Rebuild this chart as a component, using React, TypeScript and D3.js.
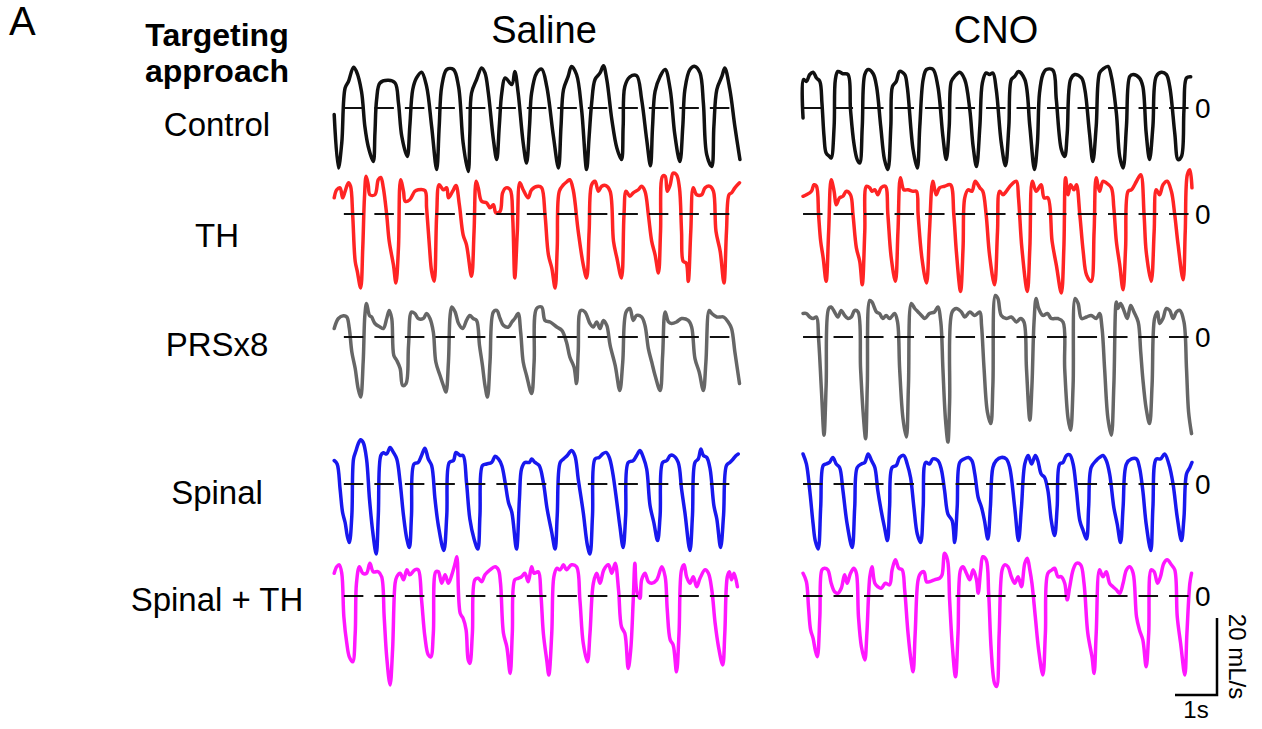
import * as d3 from 'd3';

type Pt = [number, number]; // [time (s), flow (mL/s)]

const conditions = ['Saline', 'CNO'];
const approaches = ['Control', 'TH', 'PRSx8', 'Spinal', 'Spinal + TH'];
const traceColors = ['#111111', '#ff2424', '#666666', '#1818ee', '#ff17ff'];

const controlSaline: Pt[] = [
  [0.1, -1.7], [0.2, -15.6], [0.28, -9.1], [0.36, 5.2], [0.44, 6.9], [0.56, 10.6], [0.63, 9.5], [0.75, 4.3],
  [0.83, -4.8], [0.91, -10.0], [1.03, -13.9], [1.07, -6.5], [1.11, 2.2], [1.19, 6.5], [1.39, 7.2], [1.55, 6.5],
  [1.63, 1.3], [1.71, -7.4], [1.84, -12.6], [1.9, -4.8], [1.97, 4.8], [2.06, 7.8], [2.18, 9.3], [2.3, 5.6],
  [2.42, -4.8], [2.54, -16.0], [2.6, -4.8], [2.66, 5.6], [2.78, 10.0], [2.94, 10.0], [3.06, 5.6], [3.17, -9.1],
  [3.29, -16.5], [3.33, -6.5], [3.37, 3.9], [3.49, 7.4], [3.61, 10.4], [3.69, 9.1], [3.77, 3.9], [3.89, -8.2],
  [3.97, -13.4], [4.03, -4.8], [4.09, 3.9], [4.17, 7.8], [4.33, 6.1], [4.4, 9.5], [4.48, 3.9], [4.6, -9.1],
  [4.68, -14.3], [4.75, -4.8], [4.8, 3.9], [4.92, 9.1], [5.04, 10.1], [5.16, 5.6], [5.32, -7.4], [5.44, -15.6],
  [5.5, -4.8], [5.56, 4.8], [5.67, 8.2], [5.75, 10.8], [5.87, 8.7], [5.99, -0.4], [6.11, -16.0], [6.17, -7.4],
  [6.23, 1.3], [6.31, 7.4], [6.43, 9.1], [6.51, 11.0], [6.59, 7.4], [6.71, -3.0], [6.83, -10.4], [6.94, -13.4],
  [6.98, -4.8], [7.02, 5.6], [7.14, 8.1], [7.3, 8.4], [7.42, 2.2], [7.54, -8.2], [7.63, -15.0], [7.68, -4.8],
  [7.74, 4.3], [7.86, 8.2], [7.98, 10.0], [8.1, 4.8], [8.21, -6.9], [8.33, -13.9], [8.4, -4.8], [8.45, 4.8],
  [8.57, 10.0], [8.69, 10.8], [8.81, 9.1], [8.89, 1.3], [8.97, -12.1], [9.09, -15.2], [9.14, -4.8], [9.21, 4.8],
  [9.33, 8.2], [9.4, 10.4], [9.52, 4.8], [9.64, -4.8], [9.76, -13.4],
];

const controlCNO: Pt[] = [
  [0.12, -2.6], [0.13, 7.4], [0.2, 6.9], [0.28, 8.7], [0.36, 9.3], [0.44, 7.8], [0.52, 6.9], [0.57, 1.3],
  [0.62, -7.4], [0.67, -11.7], [0.75, -12.6], [0.79, -13.0], [0.86, -4.8], [0.89, 7.4], [0.95, 9.5], [1.07, 8.9],
  [1.19, 8.7], [1.25, -0.4], [1.33, -9.1], [1.41, -13.4], [1.47, -14.3], [1.53, -4.8], [1.59, 8.7], [1.67, 10.0],
  [1.79, 8.9], [1.87, 5.6], [1.97, -4.8], [2.06, -13.4], [2.14, -16.0], [2.21, -4.8], [2.25, 5.6], [2.34, 6.9],
  [2.42, 9.5], [2.54, 8.7], [2.6, 5.6], [2.74, -10.8], [2.84, -15.6], [2.9, -4.8], [2.98, 7.4], [3.06, 10.0],
  [3.21, 10.1], [3.33, 5.6], [3.45, -7.4], [3.53, -13.4], [3.6, -4.8], [3.65, 6.9], [3.73, 8.2], [3.85, 9.3],
  [3.97, 7.4], [4.09, -0.4], [4.17, -10.0], [4.25, -15.2], [4.33, -4.8], [4.39, 6.5], [4.48, 9.1], [4.56, 8.7],
  [4.64, 9.1], [4.72, 4.8], [4.84, -9.1], [4.94, -15.0], [5.02, -4.8], [5.08, 7.4], [5.16, 8.2], [5.25, 9.5],
  [5.4, 7.4], [5.52, -4.8], [5.63, -16.0], [5.7, -9.1], [5.75, 3.9], [5.83, 8.7], [5.91, 10.0], [6.07, 9.8],
  [6.15, 2.2], [6.27, -10.8], [6.35, -12.6], [6.41, -6.5], [6.49, 7.4], [6.59, 8.7], [6.75, 7.8], [6.83, 4.8],
  [6.94, -6.5], [7.02, -13.9], [7.1, -4.8], [7.18, 9.1], [7.26, 10.1], [7.38, 10.8], [7.46, 8.2], [7.58, -1.3],
  [7.66, -12.6], [7.74, -15.6], [7.82, -4.8], [7.9, 8.2], [7.98, 8.7], [8.13, 7.8], [8.21, 5.6], [8.29, -6.5],
  [8.37, -13.4], [8.45, -4.8], [8.53, 8.2], [8.65, 9.3], [8.77, 8.7], [8.85, 5.6], [8.97, -6.5], [9.05, -13.4],
  [9.13, -12.6], [9.19, -0.4], [9.25, 7.8], [9.35, 8.1],
];

const thSaline: Pt[] = [
  [0.1, 4.2], [0.16, 6.3], [0.24, 6.8], [0.3, 4.2], [0.36, 5.9], [0.44, 8.1], [0.49, 7.2], [0.54, -0.2],
  [0.6, -12.3], [0.65, -14.9], [0.73, -19.2], [0.78, -8.8], [0.82, 4.2], [0.86, 9.8], [0.91, 7.6], [0.95, 5.0],
  [1.07, 5.0], [1.15, 8.9], [1.21, 9.5], [1.27, 6.8], [1.35, -0.2], [1.41, -7.1], [1.51, -13.2], [1.57, -17.9],
  [1.63, -8.8], [1.68, 8.9], [1.75, 5.9], [1.79, 3.3], [1.9, 3.7], [2.02, 5.9], [2.1, 6.3], [2.26, 6.1],
  [2.3, 1.6], [2.37, -8.8], [2.42, -14.9], [2.48, -17.5], [2.54, -0.2], [2.6, 7.6], [2.7, 6.3], [2.78, 6.8],
  [2.82, 4.2], [2.92, 5.9], [3.0, 7.4], [3.08, 2.4], [3.17, -5.4], [3.25, -8.0], [3.37, -16.2], [3.43, -4.5],
  [3.48, 8.5], [3.53, 6.8], [3.61, 3.3], [3.73, 2.9], [3.81, 1.6], [3.89, 2.4], [3.95, 0.3], [4.05, 0.7],
  [4.11, 5.5], [4.19, 6.8], [4.29, 6.3], [4.35, -1.0], [4.4, -16.6], [4.46, -4.5], [4.52, 8.1], [4.6, 6.3],
  [4.72, 4.2], [4.8, 6.3], [4.96, 7.2], [5.04, 6.8], [5.12, -0.2], [5.2, -10.6], [5.28, -14.0], [5.36, -19.2],
  [5.41, -8.8], [5.46, 5.9], [5.56, 7.6], [5.65, 8.5], [5.71, 8.9], [5.79, 6.3], [5.91, -4.5], [6.03, -13.2],
  [6.11, -16.6], [6.17, -4.5], [6.23, 7.6], [6.31, 8.5], [6.39, 5.9], [6.47, 7.2], [6.57, 7.4], [6.67, 5.9],
  [6.75, -7.1], [6.83, -11.4], [6.94, -16.6], [7.0, -0.2], [7.05, 5.9], [7.14, 4.6], [7.22, 5.5], [7.34, 6.3],
  [7.42, 7.2], [7.5, 5.9], [7.58, -0.2], [7.66, -7.1], [7.74, -10.6], [7.82, -15.3], [7.87, -4.5], [7.92, 9.8],
  [7.98, 9.8], [8.03, 5.9], [8.1, 7.6], [8.17, 10.6], [8.25, 10.2], [8.32, 6.8], [8.37, -4.5], [8.41, -12.3],
  [8.48, -12.7], [8.53, -17.5], [8.59, -4.5], [8.65, 6.8], [8.73, 5.0], [8.85, 5.0], [8.93, 6.8], [9.05, 7.2],
  [9.13, 5.9], [9.19, -4.5], [9.29, -9.7], [9.38, -17.9], [9.44, -4.5], [9.5, 5.0], [9.56, 5.5], [9.64, 6.8],
  [9.75, 8.1],
];

const thCNO: Pt[] = [
  [0.12, 4.6], [0.2, 5.0], [0.32, 5.9], [0.38, 7.6], [0.44, 7.2], [0.49, -0.2], [0.54, -7.1], [0.6, -11.4],
  [0.67, -17.5], [0.73, -4.5], [0.79, 8.9], [0.86, 5.9], [0.91, 2.4], [0.99, 4.2], [1.07, 4.6], [1.15, 5.9],
  [1.25, 5.0], [1.31, -0.2], [1.39, -8.8], [1.47, -12.3], [1.53, -18.4], [1.59, -4.5], [1.63, 7.2], [1.71, 6.8],
  [1.76, 5.9], [1.83, 6.3], [1.9, 5.0], [1.98, 6.8], [2.08, 7.2], [2.14, -0.2], [2.22, -11.4], [2.32, -17.5],
  [2.38, -4.5], [2.44, 9.4], [2.52, 6.3], [2.62, 6.3], [2.74, 5.9], [2.82, 5.9], [2.86, -0.2], [2.95, -11.4],
  [3.06, -17.9], [3.13, -4.5], [3.21, 8.5], [3.29, 5.0], [3.37, 6.8], [3.49, 7.2], [3.63, 7.6], [3.71, -0.2],
  [3.77, -9.7], [3.87, -20.1], [3.93, -8.8], [3.97, 4.2], [4.05, 6.3], [4.14, 5.9], [4.22, 8.5], [4.33, 6.8],
  [4.4, 5.9], [4.48, -0.2], [4.56, -10.6], [4.68, -18.4], [4.75, -4.5], [4.8, 5.9], [4.88, 5.0], [4.96, 5.9],
  [5.08, 7.6], [5.2, 8.5], [5.25, 4.2], [5.33, -8.8], [5.46, -20.1], [5.52, -8.8], [5.58, 8.5], [5.67, 5.9],
  [5.79, 7.6], [5.86, 4.2], [5.95, 4.2], [6.05, -7.1], [6.15, -13.2], [6.27, -20.5], [6.33, -8.8], [6.37, 9.4],
  [6.43, 5.0], [6.49, 7.6], [6.57, 6.3], [6.63, 7.6], [6.71, -0.2], [6.79, -9.7], [6.87, -15.8], [6.98, -17.5],
  [7.05, -4.5], [7.1, 9.4], [7.18, 5.9], [7.26, 8.5], [7.34, 8.1], [7.46, 6.8], [7.52, 1.6], [7.58, -7.1],
  [7.66, -13.2], [7.74, -19.7], [7.8, -8.8], [7.86, 5.9], [7.94, 6.3], [8.06, 8.5], [8.16, 10.2], [8.24, -0.2],
  [8.29, -9.7], [8.41, -17.5], [8.48, -4.5], [8.53, 6.3], [8.61, 5.0], [8.69, 7.6], [8.79, 8.5], [8.89, 5.9],
  [8.97, -0.2], [9.05, -8.0], [9.17, -17.1], [9.22, -4.5], [9.27, 10.2], [9.33, 11.5], [9.38, 6.8],
];

const prsSaline: Pt[] = [
  [0.1, 2.2], [0.2, 4.8], [0.32, 5.5], [0.4, 5.2], [0.46, 2.2], [0.52, -3.9], [0.6, -8.2], [0.67, -13.4],
  [0.73, -15.6], [0.79, -6.5], [0.83, 5.6], [0.87, 8.7], [0.94, 5.6], [0.99, 5.2], [1.07, 3.5], [1.19, 2.6],
  [1.27, 2.2], [1.35, 4.8], [1.41, 6.9], [1.47, 4.8], [1.52, -4.8], [1.59, -6.1], [1.67, -8.2], [1.73, -12.6],
  [1.81, -12.1], [1.87, -2.2], [1.94, 6.5], [2.02, 6.1], [2.1, 4.8], [2.22, 4.8], [2.3, 6.1], [2.38, 4.8],
  [2.46, 1.3], [2.52, -6.5], [2.62, -10.0], [2.7, -12.6], [2.76, -14.3], [2.82, -6.5], [2.86, 5.6], [2.9, 7.8],
  [2.98, 6.5], [3.06, 3.5], [3.16, 2.2], [3.25, 4.3], [3.33, 5.6], [3.41, 4.8], [3.49, 4.3], [3.56, -2.2],
  [3.63, -7.4], [3.69, -12.6], [3.75, -15.6], [3.81, -6.5], [3.89, 6.5], [3.97, 6.9], [4.05, 4.8], [4.13, 3.0],
  [4.25, 2.6], [4.33, 3.9], [4.4, 4.8], [4.48, 6.1], [4.54, 1.3], [4.6, -6.5], [4.68, -10.0], [4.8, -14.7],
  [4.86, -6.5], [4.92, 7.4], [5.04, 7.8], [5.12, 4.3], [5.24, 3.9], [5.4, 2.6], [5.52, 1.7], [5.63, -1.3],
  [5.71, -5.2], [5.81, -7.8], [5.87, -12.1], [5.91, -3.9], [5.97, 6.9], [6.07, 6.5], [6.19, 3.5], [6.27, 2.6],
  [6.35, 3.9], [6.43, 2.2], [6.51, 4.3], [6.59, 3.0], [6.67, -2.2], [6.79, -7.4], [6.9, -13.9], [6.97, -6.5],
  [7.05, 6.5], [7.14, 7.4], [7.22, 4.3], [7.3, 5.6], [7.42, 5.2], [7.5, 3.0], [7.58, -3.0], [7.66, -6.5],
  [7.74, -10.0], [7.86, -13.9], [7.92, -4.8], [7.98, 6.5], [8.06, 3.9], [8.13, 3.5], [8.25, 3.9], [8.37, 4.8],
  [8.53, 4.3], [8.61, 2.6], [8.69, -5.6], [8.79, -9.1], [8.89, -13.9], [8.95, -6.5], [9.03, 6.9], [9.09, 6.1],
  [9.21, 5.2], [9.29, 5.2], [9.37, 5.2], [9.48, 3.9], [9.56, 2.2], [9.64, -3.9], [9.75, -12.1],
];

const prsCNO: Pt[] = [
  [0.12, 6.1], [0.2, 6.1], [0.28, 5.2], [0.36, 4.8], [0.44, 5.2], [0.49, -0.4], [0.56, -14.3], [0.62, -25.5],
  [0.67, -12.6], [0.73, 7.4], [0.79, 7.8], [0.87, 6.5], [0.95, 5.2], [1.03, 6.9], [1.11, 5.6], [1.19, 4.8],
  [1.27, 5.2], [1.35, 6.9], [1.43, 6.5], [1.49, -8.2], [1.55, -19.5], [1.61, -26.4], [1.65, -12.6], [1.71, 9.5],
  [1.76, 9.1], [1.87, 6.5], [1.94, 6.1], [2.02, 4.8], [2.1, 5.6], [2.18, 4.8], [2.3, 6.1], [2.37, 3.9],
  [2.42, -8.2], [2.5, -21.2], [2.58, -26.0], [2.63, -12.6], [2.7, 8.7], [2.78, 7.4], [2.86, 6.5], [2.94, 5.6],
  [3.02, 4.8], [3.13, 6.1], [3.25, 6.5], [3.33, 7.8], [3.4, 3.9], [3.45, -8.2], [3.51, -21.2], [3.57, -27.3],
  [3.61, -16.9], [3.67, 6.5], [3.77, 7.4], [3.89, 6.5], [3.97, 5.2], [4.09, 6.5], [4.21, 5.6], [4.33, 6.5],
  [4.37, 3.0], [4.43, -8.2], [4.51, -19.5], [4.59, -22.5], [4.64, -12.6], [4.7, 10.8], [4.76, 10.0], [4.84, 5.6],
  [4.96, 4.8], [5.08, 5.2], [5.2, 3.9], [5.3, 4.8], [5.38, 3.9], [5.44, -8.2], [5.52, -21.6], [5.57, -12.6],
  [5.62, 3.9], [5.67, 10.0], [5.73, 7.4], [5.83, 5.6], [5.94, 6.1], [6.03, 4.8], [6.19, 4.8], [6.31, 3.9],
  [6.35, -8.2], [6.43, -21.2], [6.49, -24.2], [6.55, -12.6], [6.6, 10.0], [6.67, 8.7], [6.75, 4.8], [6.87, 5.2],
  [6.98, 5.6], [7.1, 4.8], [7.18, 6.1], [7.24, 2.2], [7.3, -8.2], [7.38, -21.2], [7.46, -25.5], [7.52, -12.6],
  [7.58, 9.1], [7.62, 7.4], [7.68, 8.7], [7.76, 6.9], [7.84, 4.8], [7.92, 8.2], [8.0, 6.5], [8.1, 3.9],
  [8.16, -3.9], [8.21, -10.8], [8.29, -18.6], [8.37, -22.5], [8.43, -12.6], [8.49, 4.8], [8.56, 6.5], [8.61, 3.5],
  [8.69, 4.8], [8.77, 7.4], [8.85, 6.9], [8.93, 4.8], [9.01, 6.5], [9.09, 6.9], [9.19, 3.9], [9.25, -8.2],
  [9.3, -19.5], [9.37, -25.1],
];

const spinalSaline: Pt[] = [
  [0.1, 6.1], [0.17, 5.2], [0.24, -1.3], [0.3, -7.4], [0.36, -10.0], [0.41, -13.4], [0.46, -15.2], [0.52, -8.2],
  [0.56, 6.5], [0.62, 8.7], [0.67, 10.4], [0.73, 11.5], [0.79, 10.8], [0.87, 6.5], [0.94, -3.9], [1.02, -12.6],
  [1.1, -18.2], [1.15, -8.2], [1.21, 7.4], [1.27, 8.1], [1.35, 7.8], [1.43, 9.5], [1.51, 8.2], [1.59, 6.5],
  [1.67, 0.4], [1.75, -8.2], [1.83, -14.3], [1.89, -16.5], [1.94, -8.2], [2.0, 5.2], [2.1, 5.6], [2.18, 7.4],
  [2.26, 9.3], [2.34, 6.5], [2.42, 4.8], [2.5, -3.9], [2.58, -10.8], [2.71, -17.3], [2.78, -8.2], [2.84, 5.6],
  [2.94, 6.1], [3.0, 8.2], [3.1, 7.4], [3.17, 7.4], [3.25, 0.4], [3.33, -9.1], [3.43, -14.3], [3.52, -16.9],
  [3.57, -8.2], [3.63, 4.8], [3.73, 5.2], [3.85, 5.6], [3.93, 7.2], [4.01, 6.5], [4.09, 4.8], [4.17, 0.4],
  [4.25, -4.8], [4.33, -7.4], [4.44, -16.9], [4.51, -3.9], [4.56, 3.9], [4.64, 5.6], [4.75, 5.6], [4.8, 6.5],
  [4.88, 5.6], [4.98, 4.8], [5.08, 0.4], [5.17, -6.5], [5.28, -12.6], [5.36, -16.9], [5.41, -8.2], [5.48, 5.6],
  [5.56, 6.5], [5.65, 7.4], [5.75, 8.7], [5.83, 7.4], [5.91, 1.3], [6.03, -7.4], [6.13, -16.0], [6.19, -18.2],
  [6.25, -8.2], [6.31, 6.5], [6.41, 6.9], [6.49, 7.8], [6.57, 8.2], [6.65, 6.9], [6.73, 3.0], [6.83, -4.8],
  [6.9, -10.8], [6.98, -16.5], [7.04, -8.2], [7.1, 5.6], [7.22, 6.1], [7.3, 7.4], [7.38, 8.7], [7.46, 6.9],
  [7.54, 3.9], [7.62, -5.6], [7.71, -10.0], [7.8, -14.7], [7.86, -8.2], [7.92, 5.6], [8.02, 6.1], [8.1, 7.4],
  [8.17, 7.4], [8.29, 5.6], [8.37, -1.3], [8.45, -7.4], [8.57, -17.3], [8.63, -8.2], [8.69, 5.6], [8.77, 6.5],
  [8.83, 9.1], [8.89, 7.4], [8.97, 6.9], [9.05, 3.9], [9.14, -5.6], [9.21, -9.1], [9.3, -16.5], [9.37, -8.2],
  [9.44, 4.8], [9.52, 5.6], [9.6, 6.5], [9.67, 7.4], [9.72, 7.8],
];

const spinalCNO: Pt[] = [
  [0.12, 7.8], [0.2, 5.2], [0.28, -1.7], [0.36, -10.4], [0.41, -14.7], [0.48, -16.9], [0.54, -6.1], [0.6, 4.8],
  [0.67, 5.2], [0.75, 5.6], [0.83, 6.9], [0.91, 5.2], [0.99, 4.3], [1.07, -1.7], [1.17, -10.4], [1.29, -16.5],
  [1.35, -6.1], [1.41, 4.3], [1.51, 5.2], [1.59, 5.6], [1.67, 7.8], [1.75, 6.1], [1.83, 4.3], [1.9, -1.7],
  [1.98, -6.9], [2.06, -11.3], [2.13, -14.7], [2.18, -6.1], [2.24, 4.3], [2.34, 4.8], [2.42, 6.9], [2.52, 7.4],
  [2.6, 5.2], [2.68, 1.7], [2.76, -6.1], [2.84, -13.0], [2.92, -15.2], [2.98, -6.1], [3.04, 5.6], [3.13, 5.2],
  [3.21, 6.5], [3.33, 6.1], [3.41, 3.9], [3.49, -1.7], [3.57, -7.8], [3.67, -9.5], [3.73, -15.2], [3.79, -6.1],
  [3.85, 5.6], [3.95, 6.5], [4.06, 6.9], [4.14, 6.1], [4.21, 2.6], [4.29, -3.5], [4.37, -6.1], [4.44, -9.5],
  [4.52, -14.3], [4.58, -6.1], [4.64, 4.3], [4.72, 6.1], [4.84, 6.9], [4.96, 6.5], [5.04, 4.3], [5.16, -6.1],
  [5.25, -14.7], [5.32, -6.1], [5.4, 5.2], [5.48, 7.4], [5.56, 5.2], [5.65, 7.4], [5.71, 6.1], [5.79, 2.6],
  [5.87, 1.7], [5.95, -1.7], [6.03, -9.5], [6.11, -13.4], [6.17, -6.1], [6.23, 5.2], [6.31, 5.6], [6.39, 7.4],
  [6.47, 7.6], [6.55, 5.2], [6.63, -1.7], [6.71, -9.5], [6.79, -12.1], [6.87, -14.3], [6.92, -6.1], [6.98, 4.3],
  [7.1, 6.1], [7.18, 6.9], [7.26, 7.4], [7.34, 6.1], [7.42, 2.6], [7.52, -6.1], [7.6, -10.4], [7.68, -15.2],
  [7.74, -6.1], [7.82, 5.2], [7.94, 6.5], [8.06, 6.5], [8.13, 4.3], [8.21, -1.7], [8.29, -10.4], [8.4, -17.3],
  [8.45, -6.1], [8.53, 6.5], [8.63, 6.5], [8.73, 7.8], [8.83, 5.2], [8.93, 0.0], [9.03, -8.7], [9.13, -14.7],
  [9.19, -8.7], [9.25, 2.6], [9.33, 4.3], [9.38, 5.6],
];

const spinalThSaline: Pt[] = [
  [0.1, 5.9], [0.16, 7.6], [0.22, 8.1], [0.28, 5.9], [0.33, -5.4], [0.4, -12.3], [0.46, -15.8], [0.54, -17.1],
  [0.6, -9.7], [0.63, 3.3], [0.7, 7.6], [0.78, 5.9], [0.87, 5.9], [0.95, 8.5], [1.03, 6.3], [1.15, 6.3],
  [1.23, 5.0], [1.29, -5.4], [1.35, -15.8], [1.43, -23.1], [1.49, -14.0], [1.55, 3.3], [1.59, 5.0], [1.67, 5.9],
  [1.75, 4.2], [1.83, 6.8], [1.9, 5.5], [2.02, 6.8], [2.1, 6.8], [2.18, -1.0], [2.26, -10.6], [2.34, -15.3],
  [2.4, -15.8], [2.46, -9.7], [2.52, 6.3], [2.58, 6.3], [2.66, 3.3], [2.74, 5.5], [2.82, 3.3], [2.9, 5.5],
  [2.98, 8.5], [3.02, 10.2], [3.1, -4.5], [3.17, -5.8], [3.24, -8.8], [3.29, -16.6], [3.33, -17.5], [3.39, -9.7],
  [3.45, 4.2], [3.53, 4.6], [3.61, 3.7], [3.69, 5.5], [3.81, 6.8], [3.93, 7.6], [4.01, 6.8], [4.06, 3.3],
  [4.13, -9.7], [4.21, -13.2], [4.29, -20.1], [4.34, -9.7], [4.4, 4.2], [4.48, 4.6], [4.56, 5.0], [4.64, 5.9],
  [4.72, 3.7], [4.8, 7.6], [4.86, 5.9], [4.96, 6.3], [5.02, 0.7], [5.08, -9.7], [5.16, -16.6], [5.21, -20.5],
  [5.28, -9.7], [5.33, 5.0], [5.4, 7.2], [5.48, 6.8], [5.56, 8.1], [5.63, 6.8], [5.75, 8.1], [5.87, 7.6],
  [5.95, -1.0], [6.03, -12.3], [6.13, -17.1], [6.19, -9.7], [6.27, 3.3], [6.35, 5.9], [6.43, 3.3], [6.52, 6.8],
  [6.63, 8.1], [6.71, 5.9], [6.79, 8.5], [6.87, 1.6], [6.94, -8.0], [7.02, -9.7], [7.1, -18.8], [7.16, -14.0],
  [7.22, -1.0], [7.26, 8.5], [7.3, 1.6], [7.38, -0.6], [7.42, 4.2], [7.5, 5.9], [7.58, 3.7], [7.66, 3.3],
  [7.78, 4.2], [7.9, 7.6], [7.98, 5.0], [8.03, -3.6], [8.1, -11.4], [8.17, -12.7], [8.25, -19.7], [8.31, -9.7],
  [8.37, 6.8], [8.43, 8.1], [8.49, 5.0], [8.57, 3.3], [8.65, 5.0], [8.73, 2.4], [8.81, 4.6], [8.93, 6.8],
  [9.01, 5.9], [9.09, 1.6], [9.17, -7.1], [9.25, -13.2], [9.35, -17.9], [9.4, -9.7], [9.46, 5.0], [9.51, 6.3],
  [9.56, 4.2], [9.62, 5.9], [9.7, 2.4],
];

const spinalThCNO: Pt[] = [
  [0.12, 5.9], [0.2, 3.7], [0.25, -2.8], [0.3, -8.8], [0.36, -11.0], [0.41, -14.0], [0.46, -15.8], [0.52, -5.4],
  [0.57, 6.8], [0.63, 7.2], [0.71, 6.8], [0.79, 3.3], [0.87, 1.1], [0.95, 0.7], [1.03, 2.0], [1.11, 5.5],
  [1.17, 3.3], [1.25, 5.9], [1.33, 7.2], [1.39, 5.9], [1.44, -5.4], [1.51, -13.2], [1.59, -16.6], [1.64, -9.7],
  [1.71, 5.0], [1.76, 7.6], [1.83, 3.3], [1.9, 2.4], [1.98, 2.0], [2.08, 3.3], [2.18, 2.9], [2.24, 6.8],
  [2.32, 9.4], [2.4, 7.2], [2.48, 6.8], [2.54, 1.6], [2.62, -9.7], [2.7, -17.5], [2.74, -19.7], [2.79, -9.7],
  [2.86, 4.2], [2.92, 5.9], [3.0, 6.3], [3.06, 3.7], [3.13, 3.7], [3.25, 4.2], [3.37, 4.6], [3.43, 5.5],
  [3.49, 11.1], [3.56, 9.4], [3.61, -1.0], [3.67, -12.3], [3.75, -21.0], [3.81, -9.7], [3.87, 6.8], [3.93, 7.6],
  [4.01, 5.9], [4.09, 4.2], [4.17, 6.8], [4.25, 4.2], [4.29, 0.7], [4.35, 6.8], [4.4, 10.2], [4.48, 9.4],
  [4.54, 0.7], [4.6, -14.0], [4.68, -22.7], [4.73, -23.5], [4.79, -9.7], [4.86, 6.8], [4.92, 8.1], [5.0, 7.6],
  [5.08, 5.0], [5.16, 3.3], [5.24, 5.0], [5.32, 2.4], [5.4, 8.5], [5.46, 9.8], [5.52, 6.8], [5.57, 3.3],
  [5.65, -5.4], [5.73, -14.0], [5.83, -20.5], [5.89, -9.7], [5.95, 5.9], [6.05, 6.8], [6.11, 7.2], [6.19, 5.0],
  [6.27, 5.0], [6.35, 3.3], [6.41, -1.0], [6.47, 2.4], [6.55, 6.8], [6.63, 8.5], [6.73, 8.1], [6.81, 3.3],
  [6.9, -9.7], [7.0, -15.8], [7.05, -20.1], [7.1, -9.7], [7.18, 6.8], [7.26, 5.0], [7.34, 6.3], [7.42, 3.3],
  [7.5, 2.4], [7.58, 1.6], [7.66, 0.7], [7.74, 3.3], [7.82, 6.8], [7.9, 7.6], [7.98, 5.9], [8.06, -5.4],
  [8.13, -8.8], [8.21, -11.4], [8.29, -18.4], [8.35, -9.7], [8.41, 6.8], [8.48, 6.3], [8.56, 3.3], [8.63, 5.0],
  [8.71, 8.5], [8.79, 9.4], [8.89, 8.1], [8.97, 6.8], [9.03, -5.4], [9.11, -12.3], [9.21, -20.5], [9.26, -9.7],
  [9.33, 3.3], [9.37, 5.9],
];

const traces: Pt[][][] = [
  [controlSaline, controlCNO],
  [thSaline, thCNO],
  [prsSaline, prsCNO],
  [spinalSaline, spinalCNO],
  [spinalThSaline, spinalThCNO],
];

// zero-line span (s) in each panel
const zeroSpan: [number, number][] = [[0.33, 9.52], [0.12, 9.33]];

// layout
const W = 1262;
const H = 729;
const panelLeft = [330, 798];
const rowZero = [108, 214, 337, 484, 596];
const labelY = [136, 247, 356, 504, 611];
const font = "'Liberation Sans', Arial, Helvetica, sans-serif";

const x = d3.scaleLinear().domain([0, 10]).range([0, 420]);
const y = d3.scaleLinear().domain([-20, 20]).range([77, -77]);

const line = d3.line<Pt>()
  .x(d => x(d[0]))
  .y(d => y(d[1]))
  .curve(d3.curveCatmullRom.alpha(0.5));

export default function App() {
  return (
    <svg width={W} height={H} viewBox={`0 0 ${W} ${H}`}
      style={{ position: 'absolute', left: 0, top: 0, background: '#fff' }}
      fontFamily={font}>
      <text x={9} y={35} fontSize={40}>A</text>

      <text x={217} y={46} fontSize={32} fontWeight="bold" textAnchor="middle">Targeting</text>
      <text x={217} y={82} fontSize={32} fontWeight="bold" textAnchor="middle">approach</text>

      {conditions.map((c, p) => (
        <text key={c} x={panelLeft[p] + (p === 0 ? 214 : 198)} y={43} fontSize={38} textAnchor="middle">{c}</text>
      ))}

      {approaches.map((a, r) => (
        <text key={a} x={217} y={labelY[r]} fontSize={33} textAnchor="middle">{a}</text>
      ))}

      {traces.map((row, r) => row.map((data, p) => (
        <g key={`${r}-${p}`} transform={`translate(${panelLeft[p]},${rowZero[r]})`}>
          <path d={line(data) || ''} fill="none" stroke={traceColors[r]} strokeWidth={3.5}
            strokeLinejoin="round" strokeLinecap="round" />
          <line x1={x(zeroSpan[p][0])} x2={x(zeroSpan[p][1])} y1={y(0)} y2={y(0)}
            stroke="#111" strokeWidth={2} strokeDasharray="19.5 11" />
        </g>
      )))}

      {rowZero.map((z, r) => (
        <text key={r} x={1195} y={z + 10} fontSize={28}>0</text>
      ))}

      {/* scale bar: 1 s x 20 mL/s */}
      <g transform="translate(1217,695)">
        <path d={`M0,${y(20)}V0H${-x(1)}`} fill="none" stroke="#000" strokeWidth={2.5} />
        <text x={-x(1) / 2} y={23} fontSize={24} textAnchor="middle">1s</text>
        <text transform={`translate(12,${y(10)}) rotate(90)`} fontSize={24} textAnchor="middle">20 mL/s</text>
      </g>
    </svg>
  );
}
